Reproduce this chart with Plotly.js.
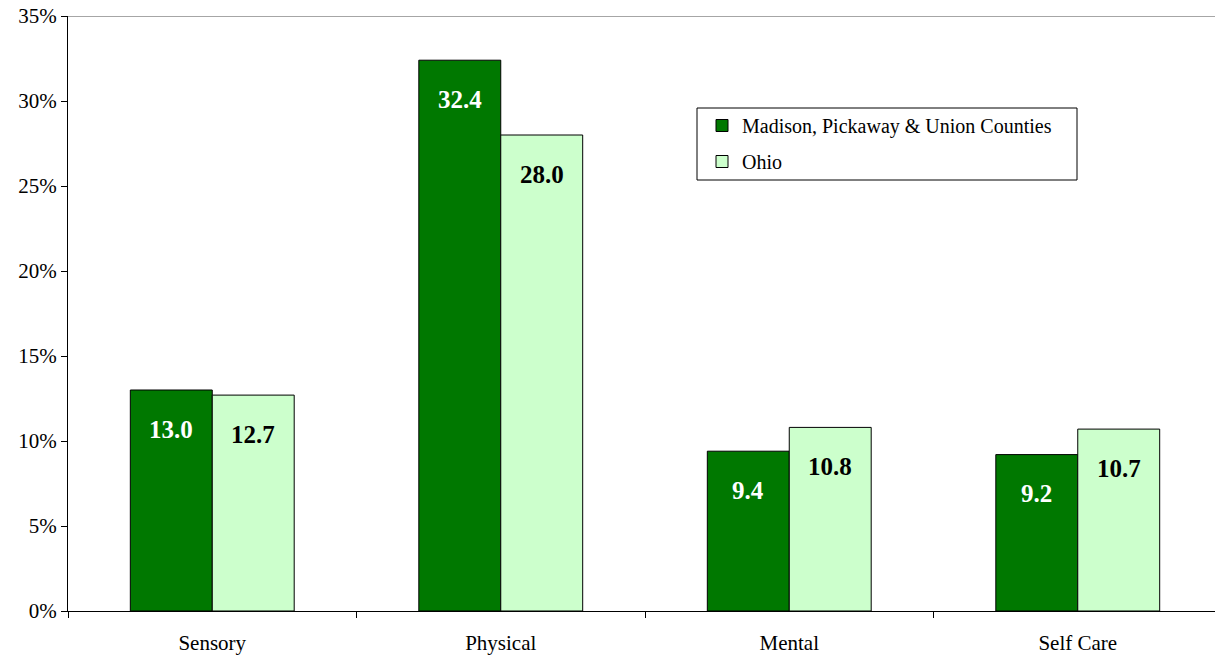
<!DOCTYPE html>
<html>
<head>
<meta charset="utf-8">
<script src="https://cdn.plot.ly/plotly-3.0.1.min.js"></script>
<style>html,body{margin:0;padding:0;background:#fff;overflow:hidden;}#chart{width:1215px;height:658px;}</style>
</head>
<body>
<div id="chart"></div>
<script>
const categories = ["Sensory", "Physical", "Mental", "Self Care"];
const regionName = "Madison, Pickaway & Union Counties";
const regionValues = [13.0, 32.4, 9.4, 9.2];
const ohioName = "Ohio";
const ohioValues = [12.7, 28.0, 10.8, 10.7];
const yTickVals = [0, 5, 10, 15, 20, 25, 30, 35];
const yTickText = ["0%", "5%", "10%", "15%", "20%", "25%", "30%", "35%"];

const darkGreen = "#007800";
const lightGreen = "#CCFFCC";
const serif = "'Liberation Serif', 'Times New Roman', Times, serif";

const traces = [
  {type: "bar", name: regionName, x: categories, y: regionValues, legendgroup: "a",
   marker: {color: darkGreen, line: {color: "#000", width: 1}}, hoverinfo: "skip"},
  {type: "bar", name: ohioName, x: categories, y: ohioValues, legendgroup: "b",
   marker: {color: lightGreen, line: {color: "#000", width: 1}}, hoverinfo: "skip"}
];

const annotations = [];
categories.forEach((c, i) => {
  annotations.push({x: i, y: regionValues[i], xref: "x", yref: "y", xshift: -41,
    text: "<b>" + regionValues[i].toFixed(1) + "</b>", showarrow: false,
    yanchor: "middle", yshift: -39, font: {family: serif, size: 25, color: "#fff"}});
  annotations.push({x: i, y: ohioValues[i], xref: "x", yref: "y", xshift: 41,
    text: "<b>" + ohioValues[i].toFixed(1) + "</b>", showarrow: false,
    yanchor: "middle", yshift: -39, font: {family: serif, size: 25, color: "#000"}});
});

// plot area in paper px: x 68..1215 (1147px), y 16..611 (595px)
const px = v => (v - 68) / 1147;
const py = v => (611 - v) / 595;

const layout = {
  width: 1215, height: 658,
  margin: {l: 68, r: 0, t: 16, b: 47},
  paper_bgcolor: "#fff", plot_bgcolor: "#fff",
  barmode: "group", bargap: 0.432, bargroupgap: 0,
  showlegend: true,
  legend: {x: px(702), y: py(106), xanchor: "left", yanchor: "top",
    bgcolor: "rgba(0,0,0,0)", borderwidth: 0, traceorder: "grouped", tracegroupgap: 7,
    font: {family: serif, size: 20, color: "#000"}},
  xaxis: {range: [-0.5, 3.4757], showline: true, linecolor: "#000", linewidth: 1,
    ticks: "outside", tickson: "boundaries", ticklen: 6, tickcolor: "#000",
    ticklabelstandoff: 13,
    tickfont: {family: serif, size: 21, color: "#000"}, showgrid: false, fixedrange: true},
  yaxis: {range: [0, 35], showline: true, linecolor: "#000", linewidth: 1,
    tickvals: yTickVals, ticktext: yTickText, ticks: "outside", ticklen: 6, tickcolor: "#000",
    tickfont: {family: serif, size: 21, color: "#000"}, showgrid: false, zeroline: false, fixedrange: true},
  shapes: [
    {type: "line", xref: "paper", yref: "y", x0: 0, x1: 1, y0: 35, y1: 35,
     line: {color: "#888", width: 1.5}},
    {type: "rect", xref: "paper", yref: "paper", x0: px(697), x1: px(1077), y0: py(108), y1: py(180),
     line: {color: "#000", width: 1}, fillcolor: "rgba(0,0,0,0)", layer: "above"}
  ],
  annotations: annotations
};

Plotly.newPlot("chart", traces, layout, {displayModeBar: false, staticPlot: true});
</script>
</body>
</html>
